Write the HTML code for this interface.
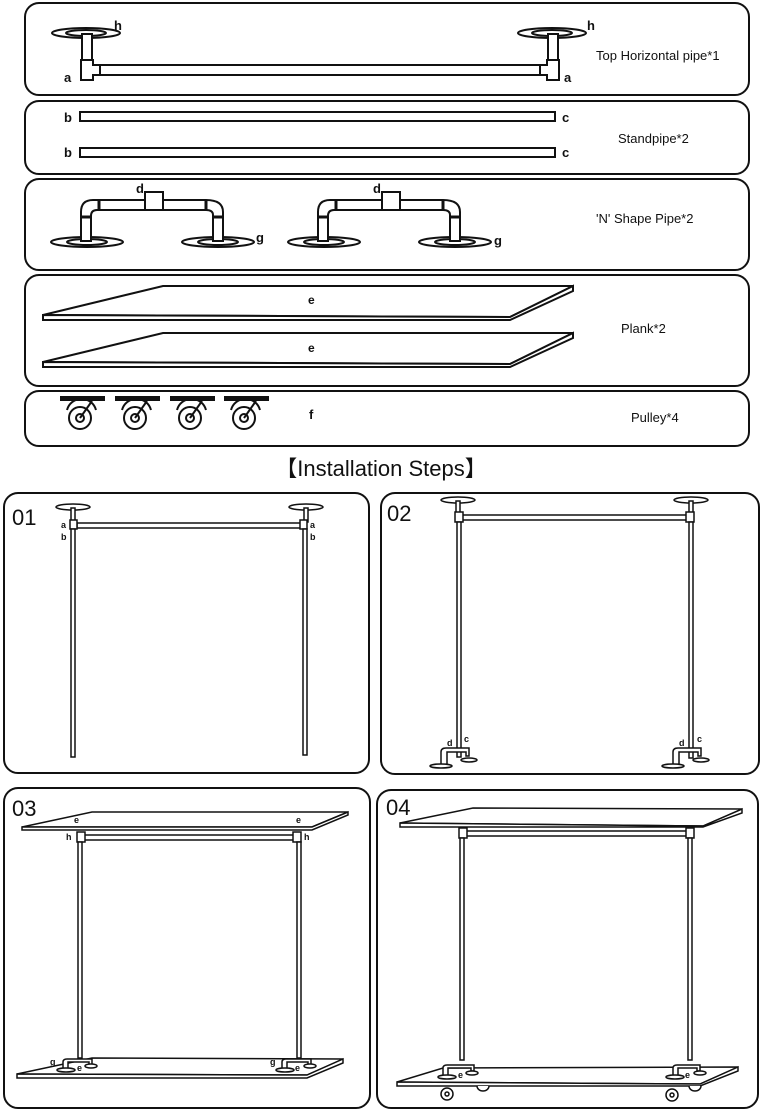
<!DOCTYPE html>
<html><head><meta charset="utf-8"><style>
html,body{margin:0;padding:0;background:#fff;}
svg{display:block;}
text{font-family:"Liberation Sans",sans-serif;fill:#111;}
</style></head><body>
<svg width="763" height="1114" viewBox="0 0 763 1114" xmlns="http://www.w3.org/2000/svg">
<g fill="none" stroke="#111" stroke-width="2">
<rect x="25" y="3" width="724" height="92" rx="14"/>
<rect x="25" y="101" width="724" height="73" rx="14"/>
<rect x="25" y="179" width="724" height="91" rx="14"/>
<rect x="25" y="275" width="724" height="111" rx="14"/>
<rect x="25" y="391" width="724" height="55" rx="14"/>
<rect x="4" y="493" width="365" height="280" rx="14"/>
<rect x="381" y="493" width="378" height="281" rx="14"/>
<rect x="4" y="788" width="366" height="320" rx="14"/>
<rect x="377" y="790" width="381" height="318" rx="14"/>
</g>
<g fill="#fff" stroke="#111" stroke-width="2">
<ellipse cx="86" cy="33" rx="34" ry="5"/><ellipse cx="86" cy="33" rx="20" ry="3"/>
<rect x="82" y="34" width="10" height="28"/>
<path d="M81 60 H93 V65 H100 V75 H93 V80 H81 Z"/>
<rect x="100" y="65" width="442" height="10"/>
<ellipse cx="552" cy="33" rx="34" ry="5"/><ellipse cx="552" cy="33" rx="20" ry="3"/>
<rect x="548" y="34" width="10" height="28"/>
<path d="M559 60 H547 V65 H540 V75 H547 V80 H559 Z"/>
<rect x="80" y="112" width="475" height="9"/>
<rect x="80" y="148" width="475" height="9"/>
</g>
<text x="114" y="30" font-size="13" font-weight="bold">h</text>
<text x="64" y="82" font-size="13" font-weight="bold">a</text>
<text x="587" y="30" font-size="13" font-weight="bold">h</text>
<text x="564" y="82" font-size="13" font-weight="bold">a</text>
<text x="596" y="60" font-size="13">Top Horizontal pipe*1</text>
<text x="64" y="122" font-size="13" font-weight="bold">b</text>
<text x="64" y="157" font-size="13" font-weight="bold">b</text>
<text x="562" y="122" font-size="13" font-weight="bold">c</text>
<text x="562" y="157" font-size="13" font-weight="bold">c</text>
<text x="618" y="143" font-size="13">Standpipe*2</text>
<g id="np" fill="#fff" stroke="#111" stroke-width="2">
<ellipse cx="87" cy="242" rx="36" ry="5"/><ellipse cx="87" cy="242" rx="20" ry="3"/>
<ellipse cx="218" cy="242" rx="36" ry="5"/><ellipse cx="218" cy="242" rx="20" ry="3"/>
<path d="M81 241 V212 Q81 200 93 200 H206 Q223 200 223 212 V241 H213 V215 Q213 210 206 210 H97 Q91 210 91 216 V241 Z"/>
<rect x="145" y="192" width="18" height="18"/>
<line x1="80" y1="217" x2="92" y2="217" stroke-width="3"/>
<line x1="99" y1="200" x2="99" y2="210" stroke-width="3"/>
<line x1="206" y1="200" x2="206" y2="210" stroke-width="3"/>
<line x1="212" y1="217" x2="224" y2="217" stroke-width="3"/>
</g>
<use href="#np" x="237"/>
<text x="136" y="193" font-size="13" font-weight="bold">d</text>
<text x="373" y="193" font-size="13" font-weight="bold">d</text>
<text x="256" y="242" font-size="13" font-weight="bold">g</text>
<text x="494" y="245" font-size="13" font-weight="bold">g</text>
<text x="596" y="223" font-size="13">'N' Shape Pipe*2</text>
<g fill="#fff" stroke="#111" stroke-width="2">
<path d="M43 315 L163 286 L573 286 L510 317 Z"/>
<path d="M43 315 V320 H510 L573 291 V286 L510 317 Z"/>
<path d="M43 362 L163 333 L573 333 L510 364 Z"/>
<path d="M43 362 V367 H510 L573 338 V333 L510 364 Z"/>
</g>
<text x="308" y="304" font-size="12" font-weight="bold">e</text>
<text x="308" y="352" font-size="12" font-weight="bold">e</text>
<text x="621" y="333" font-size="13">Plank*2</text>
<g id="pl" fill="none" stroke="#111" stroke-width="2">
<rect x="61" y="397" width="43" height="3" fill="#111"/>
<circle cx="80" cy="418" r="11"/><circle cx="80" cy="418" r="4"/>
<path d="M67 410 A15 15 0 0 1 96 410"/>
<line x1="80" y1="418" x2="92" y2="401"/>
</g>
<use href="#pl" x="55"/><use href="#pl" x="110"/><use href="#pl" x="164"/>
<text x="309" y="419" font-size="13" font-weight="bold">f</text>
<text x="631" y="422" font-size="13">Pulley*4</text>
<text x="381" y="476" font-size="22" text-anchor="middle">【Installation Steps】</text>
<text x="12" y="525" font-size="22">01</text>
<g fill="#fff" stroke="#111" stroke-width="1.5">
<ellipse cx="73" cy="507" rx="17" ry="3"/><ellipse cx="306" cy="507" rx="17" ry="3"/>
<rect x="71" y="508" width="4" height="14"/><rect x="304" y="508" width="4" height="14"/>
<rect x="77" y="523" width="224" height="5"/>
<rect x="70" y="520" width="7" height="9"/><rect x="300" y="520" width="7" height="9"/>
<rect x="71" y="529" width="4" height="228"/><rect x="303" y="529" width="4" height="226"/>
</g>
<text x="61" y="528" font-size="9" font-weight="bold">a</text><text x="61" y="540" font-size="9" font-weight="bold">b</text>
<text x="310" y="528" font-size="9" font-weight="bold">a</text><text x="310" y="540" font-size="9" font-weight="bold">b</text>
<text x="387" y="521" font-size="22">02</text>
<g fill="#fff" stroke="#111" stroke-width="1.5">
<ellipse cx="458" cy="500" rx="17" ry="3"/><ellipse cx="691" cy="500" rx="17" ry="3"/>
<rect x="456" y="501" width="4" height="13"/><rect x="689" y="501" width="4" height="13"/>
<rect x="462" y="515" width="225" height="5"/>
<rect x="455" y="512" width="8" height="10"/><rect x="686" y="512" width="8" height="10"/>
<rect x="457" y="522" width="4" height="235"/><rect x="689" y="522" width="4" height="236"/>
<g id="ft"><path d="M441 766 V752 Q441 748 446 748 H469 V756 H466 V752 H447 V766 Z"/>
<ellipse cx="441" cy="766" rx="11" ry="2"/><ellipse cx="469" cy="760" rx="8" ry="2"/></g>
<use href="#ft" x="232"/>
</g>
<text x="447" y="746" font-size="9" font-weight="bold">d</text><text x="464" y="742" font-size="9" font-weight="bold">c</text>
<text x="679" y="746" font-size="9" font-weight="bold">d</text><text x="697" y="742" font-size="9" font-weight="bold">c</text>
<text x="12" y="816" font-size="22">03</text>
<g fill="#fff" stroke="#111" stroke-width="1.5">
<path d="M22 827 L92 812 L348 812 L312 827 Z"/>
<path d="M22 827 V830 H312 L348 815 V812 L312 827 Z"/>
<rect x="84" y="835" width="210" height="5"/>
<rect x="77" y="832" width="8" height="10"/><rect x="293" y="832" width="8" height="10"/>
<rect x="78" y="842" width="4" height="216"/><rect x="297" y="842" width="4" height="216"/>
<path d="M17 1074 L92 1058 L343 1059 L307 1075 Z"/>
<path d="M17 1074 V1078 H307 L343 1063 V1059 L307 1075 Z"/>
<path d="M63 1071 V1062 Q63 1059 67 1059 H92 V1065 H89 V1062 H68 V1071 Z"/>
<ellipse cx="66" cy="1070" rx="9" ry="2"/><ellipse cx="91" cy="1066" rx="6" ry="2"/>
<path d="M282 1071 V1062 Q282 1059 286 1059 H311 V1065 H308 V1062 H287 V1071 Z"/>
<ellipse cx="285" cy="1070" rx="9" ry="2"/><ellipse cx="310" cy="1066" rx="6" ry="2"/>
</g>
<text x="74" y="823" font-size="9" font-weight="bold">e</text><text x="296" y="823" font-size="9" font-weight="bold">e</text>
<text x="66" y="840" font-size="9" font-weight="bold">h</text><text x="304" y="840" font-size="9" font-weight="bold">h</text>
<text x="50" y="1065" font-size="9" font-weight="bold">g</text><text x="77" y="1071" font-size="9" font-weight="bold">e</text>
<text x="270" y="1065" font-size="9" font-weight="bold">g</text><text x="295" y="1071" font-size="9" font-weight="bold">e</text>
<text x="386" y="815" font-size="22">04</text>
<g fill="#fff" stroke="#111" stroke-width="1.5">
<path d="M400 823 L473 808 L742 809 L703 826 Z"/>
<path d="M400 823 V827 H703 L742 813 V809 L703 826 Z"/>
<rect x="466" y="831" width="222" height="5"/>
<rect x="459" y="828" width="8" height="10"/><rect x="686" y="828" width="8" height="10"/>
<rect x="460" y="838" width="4" height="222"/><rect x="688" y="838" width="4" height="222"/>
<path d="M397 1082 L443 1068 L738 1067 L700 1084 Z"/>
<path d="M397 1082 V1086 H700 L738 1071 V1067 L700 1084 Z"/>
<path d="M443 1078 V1068 Q443 1065 447 1065 H474 V1071 H471 V1068 H448 V1078 Z"/>
<ellipse cx="447" cy="1077" rx="9" ry="2"/><ellipse cx="472" cy="1073" rx="6" ry="2"/>
<path d="M673 1078 V1068 Q673 1065 677 1065 H700 V1071 H697 V1068 H678 V1078 Z"/>
<ellipse cx="675" cy="1077" rx="9" ry="2"/><ellipse cx="700" cy="1073" rx="6" ry="2"/>
<circle cx="447" cy="1094" r="6"/><circle cx="447" cy="1094" r="2"/>
<circle cx="672" cy="1095" r="6"/><circle cx="672" cy="1095" r="2"/>
<path d="M477 1086 A6 5 0 0 0 489 1086"/><path d="M689 1086 A6 5 0 0 0 701 1086"/>
</g>
<text x="458" y="1078" font-size="9" font-weight="bold">e</text><text x="685" y="1078" font-size="9" font-weight="bold">e</text>
</svg>
</body></html>
